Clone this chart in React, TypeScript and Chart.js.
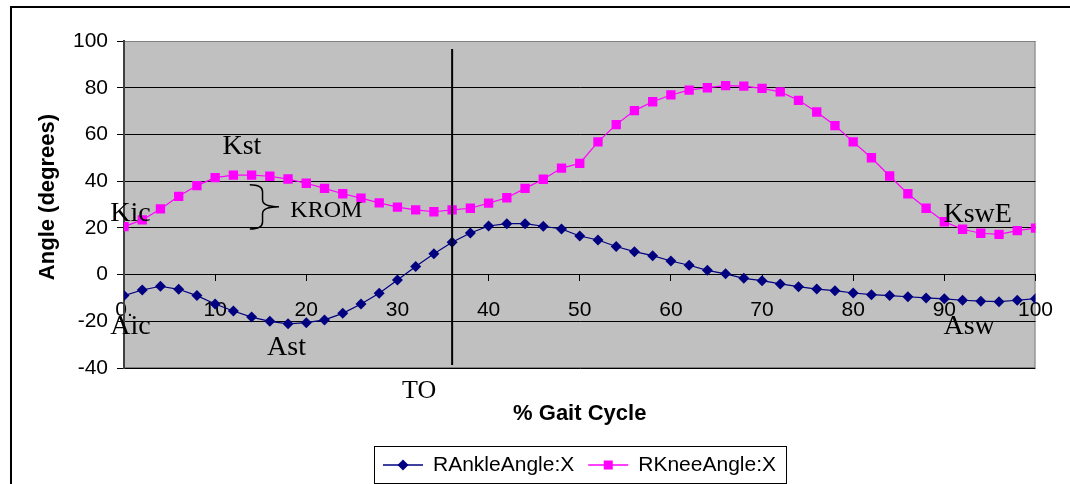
import React, { useEffect, useRef } from 'react';
import { Chart, registerables } from 'chart.js';

Chart.register(...registerables);

const SANS = '"Liberation Sans", Arial, sans-serif';
const SERIF = '"Liberation Serif", "Times New Roman", serif';

const gaitPct = [0, 2, 4, 6, 8, 10, 12, 14, 16, 18, 20, 22, 24, 26, 28, 30, 32, 34, 36, 38, 40, 42, 44, 46, 48, 50, 52, 54, 56, 58, 60, 62, 64, 66, 68, 70, 72, 74, 76, 78, 80, 82, 84, 86, 88, 90, 92, 94, 96, 98, 100];

const ankleAngle = [-9.0, -6.6, -5.0, -6.3, -9.0, -12.6, -15.6, -18.2, -20.0, -21.1, -20.6, -19.4, -16.6, -12.6, -8.0, -2.3, 3.5, 8.9, 13.8, 17.8, 20.8, 21.8, 21.8, 20.7, 19.5, 16.5, 14.8, 12.0, 9.8, 8.1, 5.8, 4.0, 1.8, 0.3, -1.6, -2.6, -4.0, -5.2, -6.2, -6.9, -7.9, -8.6, -9.0, -9.5, -10.0, -10.4, -11.0, -11.4, -11.6, -11.0, -10.3];

const kneeAngle = [20.5, 23.4, 28.1, 33.5, 38.1, 41.5, 42.6, 42.6, 42.1, 40.9, 39.1, 36.9, 34.6, 32.7, 30.7, 28.9, 27.7, 26.9, 27.7, 28.4, 30.6, 32.9, 36.9, 40.8, 45.6, 47.6, 56.8, 64.2, 70.2, 74.0, 76.9, 79.0, 80.0, 80.9, 80.7, 79.7, 78.2, 74.6, 69.6, 63.8, 56.8, 50.0, 42.2, 34.6, 28.4, 22.6, 19.4, 17.7, 17.2, 18.8, 19.9];

const seriesNames = ['RAnkleAngle:X', 'RKneeAngle:X'];
const seriesColors = ['#000080', '#FF00FF'];
const seriesMarkers = ['rectRot', 'rect'];

const yMin = -40;
const yMax = 100;
const yStep = 20;
const xMin = 0;
const xMax = 100;
const xStep = 10;

const xAxisTitle = '% Gait Cycle';
const yAxisTitle = 'Angle (degrees)';

// toe-off vertical line (x value, top value, bottom value)
const toeOffX = [36, 36];
const toeOffY = [96.6, -38.7];

// text annotations: label, x value, y value (baseline), font size
const annoLabels = ['Kic', 'Kst', 'KROM', 'Aic', 'Ast', 'KswE', 'Asw', 'TO'];
const annoX = [-1.5, 10.8, 18.25, -1.5, 15.7, 89.9, 89.9, 30.5];
const annoY = [22.9, 51.6, 24.8, -25.4, -34.4, 22.5, -25.4, -52.8];
const annoSize = [28, 28, 24, 28, 28, 28, 28, 26];

// KROM brace: left ends x, stem x, tip x, top y, bottom y (data units)
const braceX = [13.8, 15.2, 17.0];
const braceY = [38.5, 19.5];

const frameAndBackground = {
  id: 'frameAndBackground',
  beforeDraw(chart: any) {
    const { ctx, chartArea } = chart;
    ctx.save();
    ctx.fillStyle = '#FFFFFF';
    ctx.fillRect(0, 0, chart.width, chart.height);
    // outer frame (left + top)
    ctx.strokeStyle = '#000';
    ctx.lineWidth = 2;
    ctx.beginPath();
    ctx.moveTo(11, chart.height);
    ctx.lineTo(11, 7);
    ctx.lineTo(chart.width, 7);
    ctx.stroke();
    // plot area
    ctx.fillStyle = '#C0C0C0';
    ctx.fillRect(chartArea.left, chartArea.top, chartArea.right - chartArea.left, chartArea.bottom - chartArea.top);
    ctx.strokeStyle = '#808080';
    ctx.lineWidth = 1;
    ctx.strokeRect(chartArea.left + 0.5, chartArea.top + 0.5, chartArea.right - chartArea.left - 1, chartArea.bottom - chartArea.top - 1);
    ctx.restore();
  },
};

const annotationsPlugin = {
  id: 'annotationsPlugin',
  afterDraw(chart: any) {
    const { ctx, chartArea } = chart;
    const xs = chart.scales.x;
    const ys = chart.scales.y;
    ctx.save();
    ctx.fillStyle = '#000';
    ctx.textAlign = 'left';
    ctx.textBaseline = 'alphabetic';
    annoLabels.forEach((t, i) => {
      ctx.font = `${annoSize[i]}px ${SERIF}`;
      ctx.fillText(t, xs.getPixelForValue(annoX[i]), ys.getPixelForValue(annoY[i]));
    });
    // brace
    const L = xs.getPixelForValue(braceX[0]);
    const M = xs.getPixelForValue(braceX[1]);
    const R = xs.getPixelForValue(braceX[2]);
    const T = ys.getPixelForValue(braceY[0]);
    const B = ys.getPixelForValue(braceY[1]);
    const C = (T + B) / 2;
    const r = 7;
    ctx.strokeStyle = '#000';
    ctx.lineWidth = 1.5;
    ctx.beginPath();
    ctx.moveTo(L, T);
    ctx.quadraticCurveTo(M, T, M, T + r);
    ctx.lineTo(M, C - r);
    ctx.quadraticCurveTo(M, C, R, C);
    ctx.quadraticCurveTo(M, C, M, C + r);
    ctx.lineTo(M, B - r);
    ctx.quadraticCurveTo(M, B, L, B);
    ctx.stroke();

    // axis titles
    ctx.font = `bold 22px ${SANS}`;
    ctx.textAlign = 'center';
    ctx.textBaseline = 'middle';
    ctx.fillText(xAxisTitle, (chartArea.left + chartArea.right) / 2, 414);
    ctx.save();
    ctx.translate(48, 197);
    ctx.rotate(-Math.PI / 2);
    ctx.fillText(yAxisTitle, 0, 0);
    ctx.restore();

    // legend
    ctx.font = `21px ${SANS}`;
    const padL = 9, padR = 10, lineLen = 40, gapText = 10, gapItem = 14;
    const widths = seriesNames.map((n) => ctx.measureText(n).width);
    const total = padL + padR + widths.reduce((a, w) => a + lineLen + gapText + w, 0) + gapItem * (seriesNames.length - 1);
    const boxL = Math.round((chartArea.left + chartArea.right) / 2 - total / 2);
    const boxT = 446;
    const boxH = 37;
    ctx.fillStyle = '#FFFFFF';
    ctx.fillRect(boxL, boxT, total, boxH);
    ctx.strokeStyle = '#000';
    ctx.lineWidth = 1;
    ctx.strokeRect(boxL + 0.5, boxT + 0.5, total, boxH);
    const cy = boxT + boxH / 2 + 0.5;
    let cx = boxL + padL;
    seriesNames.forEach((n, i) => {
      ctx.strokeStyle = seriesColors[i];
      ctx.lineWidth = 1.5;
      ctx.beginPath();
      ctx.moveTo(cx, cy);
      ctx.lineTo(cx + lineLen, cy);
      ctx.stroke();
      ctx.fillStyle = seriesColors[i];
      const mx = cx + lineLen / 2;
      ctx.beginPath();
      if (seriesMarkers[i] === 'rectRot') {
        ctx.moveTo(mx - 5.5, cy);
        ctx.lineTo(mx, cy - 5.5);
        ctx.lineTo(mx + 5.5, cy);
        ctx.lineTo(mx, cy + 5.5);
        ctx.closePath();
      } else {
        ctx.rect(mx - 4.5, cy - 4.5, 9, 9);
      }
      ctx.fill();
      ctx.fillStyle = '#000';
      ctx.textAlign = 'left';
      ctx.textBaseline = 'middle';
      ctx.fillText(n, cx + lineLen + gapText, cy);
      cx += lineLen + gapText + widths[i] + gapItem;
    });
    ctx.restore();
  },
};

export default function App() {
  const canvasRef = useRef<HTMLCanvasElement | null>(null);

  useEffect(() => {
    const canvas = canvasRef.current;
    if (!canvas) return;
    const chart = new Chart(canvas, {
      type: 'line',
      data: {
        datasets: [
          {
            label: 'TO',
            data: toeOffX.map((x, i) => ({ x, y: toeOffY[i] })),
            borderColor: '#000',
            borderWidth: 2,
            pointRadius: 0,
            order: 0,
          },
          {
            label: seriesNames[0],
            data: gaitPct.map((x, i) => ({ x, y: ankleAngle[i] })),
            borderColor: seriesColors[0],
            backgroundColor: seriesColors[0],
            pointBackgroundColor: seriesColors[0],
            pointBorderColor: seriesColors[0],
            borderWidth: 1.2,
            pointStyle: seriesMarkers[0] as any,
            pointRadius: 5.5,
            pointBorderWidth: 0,
            tension: 0,
            order: 2,
          },
          {
            label: seriesNames[1],
            data: gaitPct.map((x, i) => ({ x, y: kneeAngle[i] })),
            borderColor: seriesColors[1],
            backgroundColor: seriesColors[1],
            pointBackgroundColor: seriesColors[1],
            pointBorderColor: seriesColors[1],
            borderWidth: 1.2,
            pointStyle: seriesMarkers[1] as any,
            pointRadius: 6.6,
            pointBorderWidth: 0,
            tension: 0,
            order: 1,
          },
        ],
      },
      options: {
        animation: false,
        responsive: false,
        devicePixelRatio: 1,
        layout: { padding: { top: 41, right: 32, bottom: 116, left: 0 } },
        plugins: {
          legend: { display: false },
          tooltip: { enabled: false },
        },
        scales: {
          x: {
            type: 'linear',
            min: xMin,
            max: xMax,
            position: { y: 0 } as any,
            ticks: {
              stepSize: xStep,
              autoSkip: false,
              maxRotation: 0,
              color: '#000',
              font: { family: SANS, size: 21 },
              padding: 17,
              callback: (v: any) => (v === 0 ? '0.' : String(v)),
            },
            grid: { drawOnChartArea: false, tickLength: 6, color: '#000', lineWidth: 1 },
            border: { color: '#000', width: 1 },
          },
          y: {
            type: 'linear',
            min: yMin,
            max: yMax,
            ticks: {
              stepSize: yStep,
              color: '#000',
              font: { family: SANS, size: 21 },
              padding: 9,
            },
            grid: {
              color: (c: any) => (c.tick && c.tick.value === yMax ? '#808080' : '#000'),
              tickColor: '#000',
              lineWidth: 1,
              tickLength: 7,
            },
            border: { color: '#404040', width: 2 },
            afterFit: (s: any) => {
              s.width = 124;
            },
          },
        },
      },
      plugins: [frameAndBackground, annotationsPlugin],
    });
    return () => chart.destroy();
  }, []);

  return (
    <div style={{ position: 'fixed', left: 0, top: 0, width: 1070, height: 484, background: '#fff' }}>
      <canvas ref={canvasRef} width={1070} height={484} style={{ display: 'block' }} />
    </div>
  );
}
